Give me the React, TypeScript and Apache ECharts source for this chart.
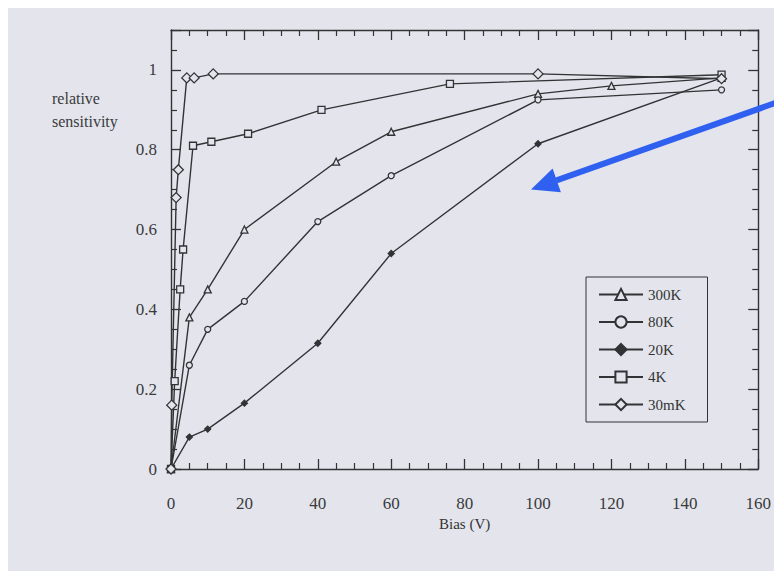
import React, { useEffect, useRef } from "react";
import * as echarts from "echarts";

// Relative sensitivity vs. bias voltage at several temperatures
const bias300K = [0, 5, 10, 20, 45, 60, 100, 120, 150];
const sens300K = [0, 0.38, 0.45, 0.6, 0.77, 0.845, 0.94, 0.96, 0.98];

const bias80K = [0, 5, 10, 20, 40, 60, 100, 150];
const sens80K = [0, 0.26, 0.35, 0.42, 0.62, 0.735, 0.925, 0.95];

const bias20K = [0, 5, 10, 20, 40, 60, 100, 150];
const sens20K = [0, 0.08, 0.1, 0.165, 0.315, 0.54, 0.815, 0.98];

const bias4K = [0, 1, 2.5, 3.3, 6, 11, 21, 41, 76, 150];
const sens4K = [0, 0.22, 0.45, 0.55, 0.81, 0.82, 0.84, 0.9, 0.965, 0.988];

const bias30mK = [0, 0.2, 1.4, 2, 4.3, 6.3, 11.5, 100, 150];
const sens30mK = [0, 0.16, 0.68, 0.75, 0.98, 0.98, 0.99, 0.99, 0.978];

const xTicks = [0, 20, 40, 60, 80, 100, 120, 140, 160];
const yTicks = [0, 0.2, 0.4, 0.6, 0.8, 1];

const seriesNames = ["300K", "80K", "20K", "4K", "30mK"];

const INK = "#333336";
const PAPER = "#e4e5ec";
const SERIF = "'Liberation Serif', 'DejaVu Serif', serif";

const zip = (xs: number[], ys: number[]) => xs.map((x, i) => [x, ys[i]]);

// frame axis: major + minor ticks pointing into the plot area, kept on the grid edge
const frameTicks = {
  axisTick: { show: true, inside: true, length: 10, lineStyle: { color: INK, width: 1.3 } },
  minorTick: { show: true, splitNumber: 4, length: 6, lineStyle: { color: INK, width: 1.2 } },
  axisLine: { show: true, onZero: false, lineStyle: { color: INK, width: 1.4 } },
  splitLine: { show: false },
  minorSplitLine: { show: false },
};

export default function App() {
  const ref = useRef<HTMLDivElement>(null);

  useEffect(() => {
    if (!ref.current) return;
    const chart = echarts.init(ref.current, null, { renderer: "svg" });

    const yLabel = (v: number) => {
      const hit = yTicks.find((t) => Math.abs(t - v) < 1e-6);
      if (hit === undefined) return "";
      if (hit === 0) return "0";
      if (hit === 1) return "1";
      return hit.toFixed(1);
    };

    const mkSeries = (
      name: string,
      data: number[][],
      symbol: string,
      size: number,
      filled: boolean
    ) => ({
      name,
      type: "line",
      xAxisIndex: 0,
      yAxisIndex: 0,
      data,
      symbol,
      symbolSize: size,
      showAllSymbol: true,
      lineStyle: { color: INK, width: 1.4 },
      itemStyle: {
        color: filled ? INK : PAPER,
        borderColor: INK,
        borderWidth: 1.3,
      },
      emphasis: { disabled: true },
    });

    chart.setOption({
      animation: false,
      backgroundColor: "#ffffff",
      textStyle: { fontFamily: SERIF },
      graphic: [
        {
          type: "rect",
          z: -10,
          silent: true,
          shape: { x: 8, y: 8, width: 770, height: 570 },
          style: { fill: PAPER },
        },
        {
          type: "text",
          left: 52,
          top: 87,
          style: {
            text: "relative\nsensitivity",
            font: `16px ${SERIF}`,
            fill: "#3a3a3c",
            lineHeight: 23,
          },
        },
        {
          type: "line",
          z: 100,
          shape: { x1: 778, y1: 102, x2: 556.5, y2: 180.4 },
          style: { stroke: "#2f60f0", lineWidth: 6 },
        },
        {
          type: "polygon",
          z: 100,
          shape: {
            points: [
              [531, 189.5],
              [552.6, 168.6],
              [560.9, 192.2],
            ],
          },
          style: { fill: "#2f60f0" },
        },
      ],
      grid: { left: 171, top: 30, width: 588, height: 439 },
      legend: {
        data: seriesNames,
        orient: "vertical",
        left: 586,
        top: 277,
        itemWidth: 44,
        itemHeight: 14,
        itemGap: 12.5,
        padding: [10, 22, 10, 12],
        borderColor: INK,
        borderWidth: 1,
        backgroundColor: PAPER,
        textStyle: { fontFamily: SERIF, fontSize: 15, color: "#333" },
        selectedMode: false,
      },
      xAxis: [
        {
          type: "value",
          position: "bottom",
          min: 0,
          max: 160,
          interval: 20,
          name: "Bias (V)",
          nameLocation: "middle",
          nameGap: 44,
          nameTextStyle: { fontFamily: SERIF, fontSize: 15, color: "#333" },
          ...frameTicks,
          axisLabel: {
            margin: 26,
            fontFamily: SERIF,
            fontSize: 17,
            color: "#3a3a3c",
            formatter: (v: number) =>
              xTicks.includes(Math.round(v)) ? String(Math.round(v)) : "",
          },
        },
        {
          type: "value",
          position: "top",
          min: 0,
          max: 160,
          interval: 20,
          ...frameTicks,
          axisLabel: { show: false },
        },
      ],
      yAxis: [
        {
          type: "value",
          position: "left",
          min: 0,
          max: 1.1,
          interval: 0.2,
          ...frameTicks,
          axisLabel: {
            margin: 14,
            fontFamily: SERIF,
            fontSize: 17,
            color: "#3a3a3c",
            formatter: yLabel,
          },
        },
        {
          type: "value",
          position: "right",
          min: 0,
          max: 1.1,
          interval: 0.2,
          ...frameTicks,
          axisLabel: { show: false },
        },
      ],
      series: [
        mkSeries("300K", zip(bias300K, sens300K), "triangle", 7, false),
        mkSeries("80K", zip(bias80K, sens80K), "circle", 6, false),
        mkSeries("20K", zip(bias20K, sens20K), "diamond", 6, true),
        mkSeries("4K", zip(bias4K, sens4K), "rect", 7, false),
        mkSeries("30mK", zip(bias30mK, sens30mK), "diamond", 10, false),
      ],
    });

    return () => chart.dispose();
  }, []);

  return (
    <div
      ref={ref}
      style={{ position: "fixed", left: 0, top: 0, width: 774, height: 571 }}
    />
  );
}
